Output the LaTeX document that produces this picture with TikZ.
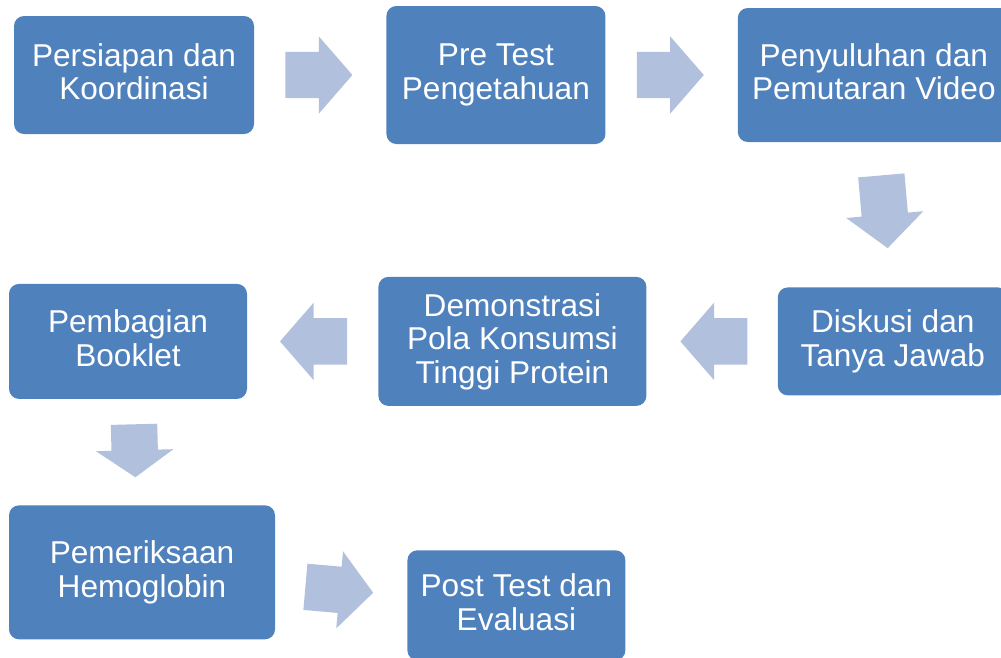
\documentclass[tikz,border=0pt]{standalone}
\usepackage{fontspec}
\setmainfont{Liberation Sans}
\usetikzlibrary{shapes,arrows,positioning,calc}

\definecolor{boxblue}{RGB}{79,129,189}
\definecolor{arrowblue}{RGB}{177,192,220}

\begin{document}
\begin{tikzpicture}[x=1pt, y=-1pt, node distance=132pt]
    \tikzstyle{stage}    = [rectangle, fill=boxblue, rounded corners=10pt, text=white, align=center, font=\fontsize{31.6}{33.5}\selectfont, inner sep=0pt,
                            execute at begin node={\rule{0pt}{28.6pt}}, execute at end node={\rule[-6.7pt]{0pt}{6.7pt}}]
    \tikzstyle{fatarrow} = [single arrow, anchor=tail, fill=arrowblue, minimum height=67pt, inner xsep=0pt, inner ysep=23pt, single arrow head extend=15.5pt, single arrow tip angle=98]

    \useasboundingbox (0,0) rectangle (1001,657);
    \clip (0,0) rectangle (1001,657);

    \node [stage, minimum width=240pt, minimum height=118pt] (persiapan) at (134,75) {Persiapan dan\\Koordinasi};
    \node [stage, minimum width=219pt, minimum height=138pt, right=of persiapan] (pretest) {Pre Test\\Pengetahuan};
    \node [stage, minimum width=272pt, minimum height=134pt, right=of pretest] (penyuluhan) {Penyuluhan dan\\Pemutaran Video};

    \node [stage, minimum width=230pt, minimum height=108pt, below=145pt of penyuluhan, xshift=19pt] (diskusi) {Diskusi dan\\Tanya Jawab};
    \node [stage, minimum width=268pt, minimum height=129pt, left=131pt of diskusi] (demonstrasi) {Demonstrasi\\Pola Konsumsi\\Tinggi Protein};
    \node [stage, minimum width=238pt, minimum height=115pt, left=131pt of demonstrasi] (pembagian) {Pembagian\\Booklet};

    \node [stage, minimum width=266pt, minimum height=134pt, below=106pt of pembagian, xshift=14pt] (pemeriksaan) {Pemeriksaan\\Hemoglobin};
    \node [stage, minimum width=218pt, minimum height=110pt, right=of pemeriksaan, yshift=-33pt] (posttest) {Post Test dan\\Evaluasi};

    % block arrows, placed by their tail
    \node [fatarrow] (a1) at ($(persiapan.east)!0.5!(pretest.west)+(-35,0)$) {};
    \node [fatarrow] (a2) at ($(pretest.east)!0.5!(penyuluhan.west)+(-35,0)$) {};
    \node [fatarrow, rotate=-85, minimum height=73pt] (a3) at ($(penyuluhan.south)!0.5!(diskusi.north)+(-2,-39.5)$) {};
    \node [fatarrow, rotate=180] (a4) at ($(diskusi.west)!0.5!(demonstrasi.east)+(35.5,0)$) {};
    \node [fatarrow, rotate=180] (a5) at ($(demonstrasi.west)!0.5!(pembagian.east)+(34.5,0)$) {};
    \node [fatarrow, rotate=-88.5, minimum height=53pt, single arrow tip angle=110] (a6) at ($(pembagian.south)!0.5!(pemeriksaan.north)+(-1,-28)$) {};
    \node [fatarrow, rotate=-5, minimum height=68pt] (a7) at ($(pemeriksaan.east)!0.5!(posttest.west)+(-36,-2)$) {};
\end{tikzpicture}
\end{document}
